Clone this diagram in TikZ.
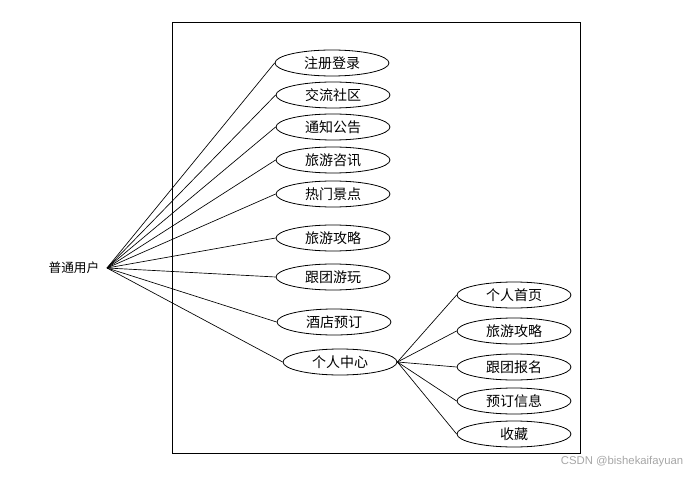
\documentclass[tikz,border=0pt]{standalone}
\usepackage{fontspec}
\setmainfont{Noto Sans CJK SC}
\newfontfamily\wmfont{Liberation Sans}
\usetikzlibrary{shapes.geometric}

\begin{document}
\begin{tikzpicture}[x=0.75pt,y=0.75pt,yscale=-1,xscale=1,
  usecase/.style={draw,ellipse,line width=0.6pt,minimum width=85.5pt,minimum height=19.5pt,inner sep=0pt,font=\fontsize{10.5}{12}\selectfont},
  link/.style={line width=0.5pt}]
\useasboundingbox (0,0) rectangle (695,477);

%System boundary
\draw [line width=0.6pt] (172,22) rectangle (580,453);

%Actor
\coordinate (user) at (107,268);
\node [anchor=east,font=\fontsize{9.5}{11}\selectfont] (userlabel) at (104,268) {普通用户};

%Use cases, left column
\node [usecase] (reg) at (332,63) {注册登录};
\node [usecase] (forum) at (333,95) {交流社区};
\node [usecase] (notice) at (333,127) {通知公告};
\node [usecase] (news) at (333,160) {旅游咨讯};
\node [usecase] (spots) at (333,194) {热门景点};
\node [usecase] (guide) at (333,238) {旅游攻略};
\node [usecase] (tour) at (333,277) {跟团游玩};
\node [usecase] (hotel) at (334,322) {酒店预订};
\node [usecase] (center) at (340,362) {个人中心};

%Use cases, right column
\node [usecase] (home) at (514,295) {个人首页};
\node [usecase] (myguide) at (514,331) {旅游攻略};
\node [usecase] (signup) at (514,367) {跟团报名};
\node [usecase] (booking) at (514,401) {预订信息};
\node [usecase] (fav) at (514,434) {收藏};

%Actor links
\foreach \uc in {reg,forum,notice,news,spots,guide,tour,hotel,center}
  \draw [link] (user) -- (\uc.west);

%Personal centre links
\foreach \uc in {home,myguide,signup,booking,fav}
  \draw [link] (center.east) -- (\uc.west);

% Text Node
\node [anchor=south east,text=black!35,font=\wmfont\fontsize{8.5}{10}\selectfont] (mark) at (688,472) {CSDN @bishekaifayuan};

\end{tikzpicture}
\end{document}
